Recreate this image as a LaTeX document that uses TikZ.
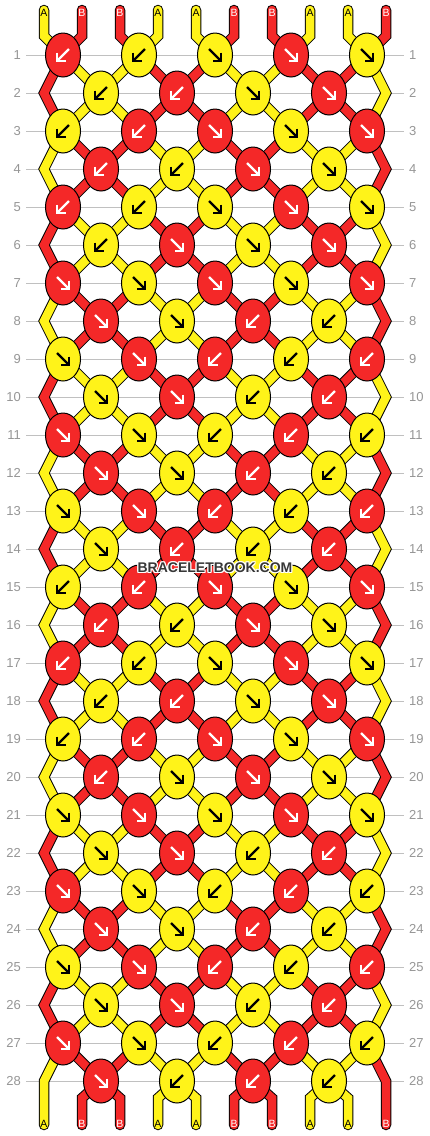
\documentclass[tikz,border=0pt]{standalone}
\usepackage{fontspec}
\setmainfont{Liberation Sans}
\usetikzlibrary{shapes.geometric}
\definecolor{kred}{RGB}{244,40,40}
\definecolor{kyel}{RGB}{255,243,25}
\definecolor{rowline}{RGB}{192,192,192}
\definecolor{rowtext}{RGB}{150,150,150}
\definecolor{wmark}{RGB}{55,55,55}
\begin{document}
\begin{tikzpicture}[x=1pt,y=-1pt,
  declare function={
    kx(\PP,\RR)=(mod(\RR,2)==1) ? 63+76*floor((\PP-1)/2) : ((\PP==1) ? 44 : ((\PP==10) ? 386 : 101+76*floor((\PP-2)/2)));
    ky(\RR)=55+38*(\RR-1);
    sx(\PP)=44+38*(\PP-1);
    isred(\PP,\RR)=mod(mod(floor(\PP/2),2)+mod(floor((\RR+1)/2),2),2);
  },
  strand/.style={draw=black, line width=1pt, double distance=8.5pt},
  knot/.style={ellipse, draw=black, line width=1pt, minimum width=35pt, minimum height=44pt, inner sep=0pt},
  arrowline/.style={line width=2.4pt, line cap=butt, line join=miter},
  rowno/.style={text=rowtext, font=\fontsize{13}{15}\selectfont, inner sep=0pt},
  endlab/.style={font=\fontsize{10.5}{11}\selectfont, inner sep=0pt},
  wmtext/.style={font=\bfseries\fontsize{14}{16}\selectfont, inner sep=0pt},
]
\useasboundingbox (0,0) rectangle (430,1136);
\fill[white] (0,0) rectangle (430,1136);

% coordinates of strand positions
\foreach \rw in {1,...,28}{
  \foreach \p in {1,...,10}{
    \coordinate (c-\rw-\p) at ({kx(\p,\rw)},{ky(\rw)});
  }
}
\foreach \p in {1,...,10}{
  \coordinate (t-\p) at ({sx(\p)},10);
  \coordinate (tb-\p) at ({sx(\p)},36);
  \coordinate (bb-\p) at ({sx(\p)},1098);
  \coordinate (b-\p) at ({sx(\p)},1125);
}

% row numbers and row lines
\foreach \rw in {1,...,28}{
  \node[rowno, anchor=east] (ln-\rw) at (21,{ky(\rw)}) {\rw};
  \node[rowno, anchor=west] (rn-\rw) at (409,{ky(\rw)}) {\rw};
  \draw[rowline, line width=1pt] ([xshift=5pt]ln-\rw.east) -- ([xshift=-5pt]rn-\rw.west);
}

% top strands
\foreach \p in {1,...,10}{
  \pgfmathtruncatemacro{\red}{isred(\p,0)}
  \ifnum\red=1 \def\scol{kred}\else\def\scol{kyel}\fi
  \draw[strand, double=\scol, line cap=round] (t-\p) -- (tb-\p) -- (c-1-\p);
}
% inner strands
\foreach \rw in {1,...,27}{
  \pgfmathtruncatemacro{\rn}{\rw+1}
  \foreach \p in {2,...,9}{
    \pgfmathtruncatemacro{\red}{isred(\p,\rw)}
    \ifnum\red=1 \def\scol{kred}\else\def\scol{kyel}\fi
    \draw[strand, double=\scol] (c-\rw-\p) -- (c-\rn-\p);
  }
}
% edge strands
\foreach \rw in {2,4,...,26}{
  \pgfmathtruncatemacro{\rp}{\rw-1}
  \pgfmathtruncatemacro{\rn}{\rw+1}
  \foreach \p in {1,10}{
    \pgfmathtruncatemacro{\red}{isred(\p,\rp)}
    \ifnum\red=1 \def\scol{kred}\else\def\scol{kyel}\fi
    \draw[strand, double=\scol] (c-\rp-\p) -- (c-\rw-\p) -- (c-\rn-\p);
  }
}
\foreach \p in {1,10}{
  \pgfmathtruncatemacro{\red}{isred(\p,27)}
  \ifnum\red=1 \def\scol{kred}\else\def\scol{kyel}\fi
  \draw[strand, double=\scol, line cap=round] (c-27-\p) -- (c-28-\p) -- (b-\p);
}
% bottom strands
\foreach \p in {2,...,9}{
  \pgfmathtruncatemacro{\red}{isred(\p,28)}
  \ifnum\red=1 \def\scol{kred}\else\def\scol{kyel}\fi
  \draw[strand, double=\scol, line cap=round] (c-28-\p) -- (bb-\p) -- (b-\p);
}

% knots
\foreach \rw/\ks in {
1/{r/L,y/L,y/R,r/R,y/R},
2/{y/L,r/L,y/R,r/R},
3/{y/L,r/L,r/R,y/R,r/R},
4/{r/L,y/L,r/R,y/R},
5/{r/L,y/L,y/R,r/R,y/R},
6/{y/L,r/R,y/R,r/R},
7/{r/R,y/R,r/R,y/R,r/R},
8/{r/R,y/R,r/L,y/L},
9/{y/R,r/R,r/L,y/L,r/L},
10/{y/R,r/R,y/L,r/L},
11/{r/R,y/R,y/L,r/L,y/L},
12/{r/R,y/R,r/L,y/L},
13/{y/R,r/R,r/L,y/L,r/L},
14/{y/R,r/L,y/L,r/L},
15/{y/L,r/L,r/R,y/R,r/R},
16/{r/L,y/L,r/R,y/R},
17/{r/L,y/L,y/R,r/R,y/R},
18/{y/L,r/L,y/R,r/R},
19/{y/L,r/L,r/R,y/R,r/R},
20/{r/L,y/R,r/R,y/R},
21/{y/R,r/R,y/R,r/R,y/R},
22/{y/R,r/R,y/L,r/L},
23/{r/R,y/R,y/L,r/L,y/L},
24/{r/R,y/R,r/L,y/L},
25/{y/R,r/R,r/L,y/L,r/L},
26/{y/R,r/R,y/L,r/L},
27/{r/R,y/R,y/L,r/L,y/L},
28/{r/R,y/L,r/L,y/L}}{
  \pgfmathtruncatemacro{\odd}{mod(\rw,2)}
  \foreach \kc/\kd [count=\k from 0] in \ks {
    \pgfmathtruncatemacro{\pp}{2*\k+2-\odd}
    \if r\kc \def\kfill{kred}\def\acol{white}\else\def\kfill{kyel}\def\acol{black}\fi
    \node[knot, fill=\kfill] (k-\rw-\k) at (c-\rw-\pp) {};
    \begin{scope}[shift={(k-\rw-\k.center)}]
      \if L\kd
        \draw[arrowline, draw=\acol] (6,-6) -- (-5,5);
        \draw[arrowline, draw=\acol] (-6,-2.5) -- (-6,6) -- (2.5,6);
      \else
        \draw[arrowline, draw=\acol] (-6,-6) -- (5,5);
        \draw[arrowline, draw=\acol] (6,-2.5) -- (6,6) -- (-2.5,6);
      \fi
    \end{scope}
  }
}

% end labels
\foreach \p/\lab in {1/A,2/B,3/B,4/A,5/A,6/B,7/B,8/A,9/A,10/B}{
  \if A\lab \def\lcol{black}\else\def\lcol{white}\fi
  \node[endlab, text=\lcol] (tl-\p) at ({sx(\p)},13) {\lab};
  \node[endlab, text=\lcol] (bl-\p) at ({sx(\p)},1124) {\lab};
}

% watermark
\foreach \dx/\dy [count=\i] in {-1/0,1/0,0/-1,0/1,-1/-1,1/1,-1/1,1/-1}{
  \node[wmtext, text=white] (wh-\i) at ({215+\dx},{568+\dy}) {BRACELETBOOK.COM};
}
\node[wmtext, text=wmark] (wm) at (215,568) {BRACELETBOOK.COM};
\end{tikzpicture}
\end{document}
